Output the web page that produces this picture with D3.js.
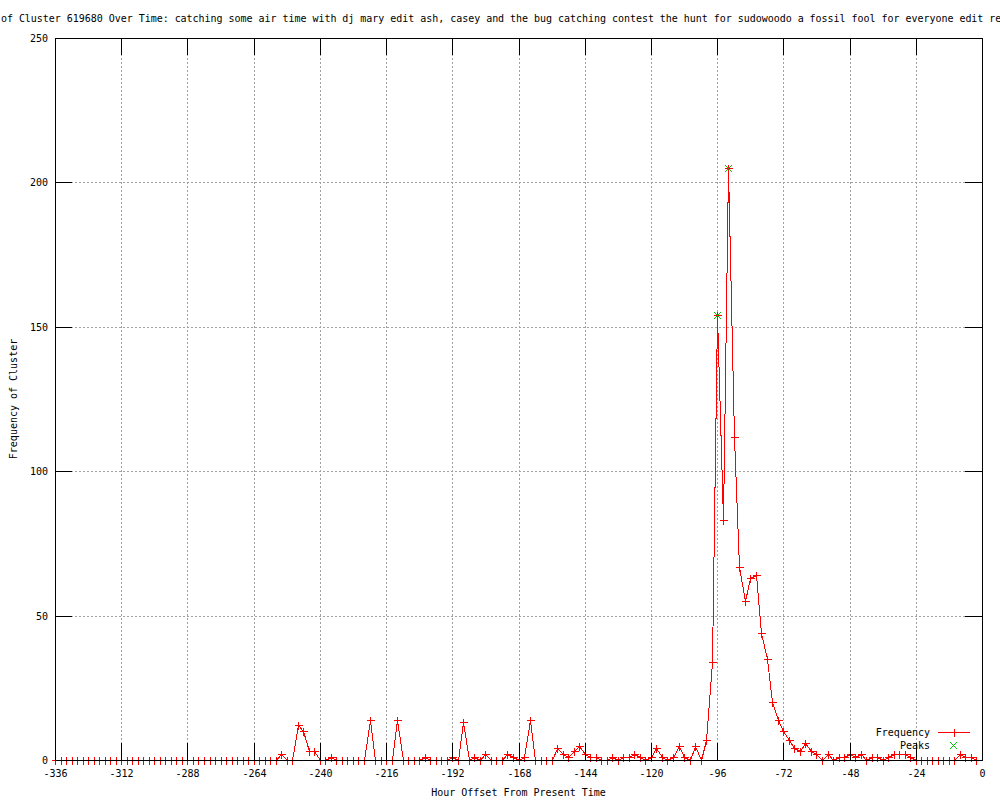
<!DOCTYPE html>
<html>
<head>
<meta charset="utf-8">
<script src="https://cdn.jsdelivr.net/npm/d3@7"></script>
<style>
    body { margin: 0; background: #fff; }
    svg { display: block; font-family: "DejaVu Sans Mono", "Liberation Mono", monospace; font-size: 10px; }
</style>
</head>
<body>
<div id="svgcontainer"></div>
<script>
/***************************************************************** */
/* data (one value every 2 hours, -336 .. -2)
/***************************************************************** */
const frequency = [
    0, 0, 0, 0, 0, 0, 0, 0, 0, 0, 0, 0, 0, 0, 0, 0, 0, 0, 0, 0,
    0, 0, 0, 0, 0, 0, 0, 0, 0, 0, 0, 0, 0, 0, 0, 0, 0, 0, 0, 0,
    0,                                      // -256
    2, 0, 0, 12, 10, 3, 3, 0, 0, 1,         // -254 .. -236
    0, 0, 0, 0, 0, 0, 14, 0, 0, 0,          // -234 .. -216
    0, 14, 0, 0, 0, 0, 1, 0, 0, 0,          // -214 .. -196
    0, 1, 0, 13, 0, 1, 0, 2, 0, 0,          // -194 .. -176
    0, 2, 1, 0, 1, 14, 0, 0, 0, 0,          // -174 .. -156
    4, 2, 1, 3, 5, 2, 1, 1, 0, 0,           // -154 .. -136
    1, 0, 1, 1, 2, 1, 0, 1, 4, 1,           // -134 .. -116
    0, 1, 5, 1, 0, 5, 0, 7, 34, 154,        // -114 .. -96
    83, 205, 112, 67, 55, 63, 64, 44, 35, 20, // -94 .. -76
    14, 10, 7, 4, 3, 6, 3, 2, 0, 2,         // -74 .. -56
    0, 1, 1, 2, 1, 2, 0, 1, 1, 0,           // -54 .. -36
    1, 2, 2, 2, 1, 0, 0, 0, 0, 0,           // -34 .. -16
    0, 0, 0, 2, 1, 1, 0                     // -14 .. -2
]
const hours = frequency.map((v, i) => -336 + 2 * i)

const peak_hours = [-96, -92]
const peak_values = [154, 205]

const x_ticks = [-336, -312, -288, -264, -240, -216, -192, -168, -144, -120, -96, -72, -48, -24, 0]
const y_ticks = [0, 50, 100, 150, 200, 250]

const title_text = 'Frequency of Cluster 619680 Over Time: catching some air time with dj mary edit ash, casey and the bug catching contest the hunt for sudowoodo a fossil fool for everyone edit red and blue'
const x_label = 'Hour Offset From Present Time'
const y_label = 'Frequency of Cluster'

/**------------------------------------------------------------------------
 *                           setup
 *------------------------------------------------------------------------**/
const svg_width = 1000,
    svg_height = 800,
    plot = { left: 55, right: 982, top: 38, bottom: 760 },
    tick_len = 17

let svg = d3.select('#svgcontainer')
    .append('svg')
    .attr('width', svg_width)
    .attr('height', svg_height)

// rounded scales so every line lands on a whole pixel
let xScale = d3.scaleLinear().domain([-336, 0]).range([plot.left, plot.right]).interpolate(d3.interpolateRound),
    yScale = d3.scaleLinear().domain([0, 250]).range([plot.bottom, plot.top]).interpolate(d3.interpolateRound)

const px = v => v + 0.5

// grid
let grid = svg.append('g')
    .attr('stroke', '#a0a0a0')
    .attr('stroke-dasharray', '2,2')
    .attr('shape-rendering', 'crispEdges')
grid.selectAll('.gx')
    .data(x_ticks.slice(1, -1))
    .enter().append('line')
    .attr('x1', d => px(xScale(d))).attr('x2', d => px(xScale(d)))
    .attr('y1', plot.top).attr('y2', plot.bottom)
grid.selectAll('.gy')
    .data(y_ticks.slice(1, -1))
    .enter().append('line')
    .attr('y1', d => px(yScale(d))).attr('y2', d => px(yScale(d)))
    .attr('x1', plot.left).attr('x2', plot.right)

// frequency line + points
let line = d3.line()
    .x((d, i) => px(xScale(hours[i])))
    .y(d => px(yScale(d)))

svg.append('path')
    .datum(frequency)
    .attr('fill', 'none')
    .attr('stroke', '#ff0000')
    .attr('stroke-width', 1)
    .attr('shape-rendering', 'crispEdges')
    .attr('d', line)

function plus_path(cx, cy, r) {
    return 'M' + (cx - r) + ',' + cy + 'H' + (cx + r) + 'M' + cx + ',' + (cy - r) + 'V' + (cy + r)
}
function cross_path(cx, cy, r) {
    return 'M' + (cx - r) + ',' + (cy - r) + 'L' + (cx + r) + ',' + (cy + r) +
        'M' + (cx - r) + ',' + (cy + r) + 'L' + (cx + r) + ',' + (cy - r)
}

svg.append('g')
    .selectAll('path')
    .data(frequency)
    .enter().append('path')
    .attr('fill', 'none')
    .attr('stroke', '#ff0000')
    .attr('shape-rendering', 'crispEdges')
    .attr('d', (d, i) => plus_path(px(xScale(hours[i])), px(yScale(d)), 4))

svg.append('g')
    .selectAll('path')
    .data(peak_values)
    .enter().append('path')
    .attr('fill', 'none')
    .attr('stroke', '#00c000')
    .attr('d', (d, i) => cross_path(px(xScale(peak_hours[i])), px(yScale(d)), 3.5))

// axes (ticks drawn inwards, mirrored on top/right)
let fmt = d => String(d)

let x_axis = svg.append('g')
    .attr('transform', 'translate(0,' + plot.bottom + ')')
    .call(d3.axisBottom(xScale).tickValues(x_ticks).tickSize(-tick_len).tickPadding(10).tickFormat(fmt).offset(0.5))
let x_axis_top = svg.append('g')
    .attr('transform', 'translate(0,' + plot.top + ')')
    .call(d3.axisTop(xScale).tickValues(x_ticks).tickSize(-tick_len).tickFormat('').offset(0.5))
let y_axis = svg.append('g')
    .attr('transform', 'translate(' + plot.left + ',0)')
    .call(d3.axisLeft(yScale).tickValues(y_ticks).tickSize(-tick_len).tickPadding(7).tickFormat(fmt).offset(0.5))
let y_axis_right = svg.append('g')
    .attr('transform', 'translate(' + plot.right + ',0)')
    .call(d3.axisRight(yScale).tickValues(y_ticks).tickSize(-tick_len).tickFormat('').offset(0.5))

for (let a of [x_axis, x_axis_top, y_axis, y_axis_right]) {
    a.attr('font-family', null).attr('font-size', null)
    a.select('.domain').remove()
    a.selectAll('line')
        .attr('stroke', '#000')
        .attr('stroke-width', 1)
        .attr('shape-rendering', 'crispEdges')
    a.selectAll('text').attr('fill', '#000')
}

// border
svg.append('rect')
    .attr('x', plot.left + 0.5)
    .attr('y', plot.top + 0.5)
    .attr('width', plot.right - plot.left)
    .attr('height', plot.bottom - plot.top)
    .attr('fill', 'none')
    .attr('stroke', '#000')
    .attr('shape-rendering', 'crispEdges')

// titles
svg.append('text')
    .attr('x', -59)
    .attr('y', 22)
    .attr('letter-spacing', '-0.03px')
    .text(title_text)

svg.append('text')
    .attr('x', (plot.left + plot.right) / 2)
    .attr('y', 796)
    .attr('text-anchor', 'middle')
    .text(x_label)

svg.append('text')
    .attr('transform', 'translate(17,' + ((plot.top + plot.bottom) / 2) + ') rotate(-90)')
    .attr('text-anchor', 'middle')
    .text(y_label)

// legend
let legend = svg.append('g')
legend.append('text').attr('x', 930).attr('y', 736).attr('text-anchor', 'end').text('Frequency')
legend.append('path')
    .attr('stroke', '#ff0000').attr('fill', 'none').attr('shape-rendering', 'crispEdges')
    .attr('d', 'M938,732.5H970' + plus_path(954.5, 732.5, 4))
legend.append('text').attr('x', 930).attr('y', 749).attr('text-anchor', 'end').text('Peaks')
legend.append('path')
    .attr('stroke', '#00c000').attr('fill', 'none')
    .attr('d', cross_path(953.5, 745.5, 3.5))
</script>
</body>
</html>
